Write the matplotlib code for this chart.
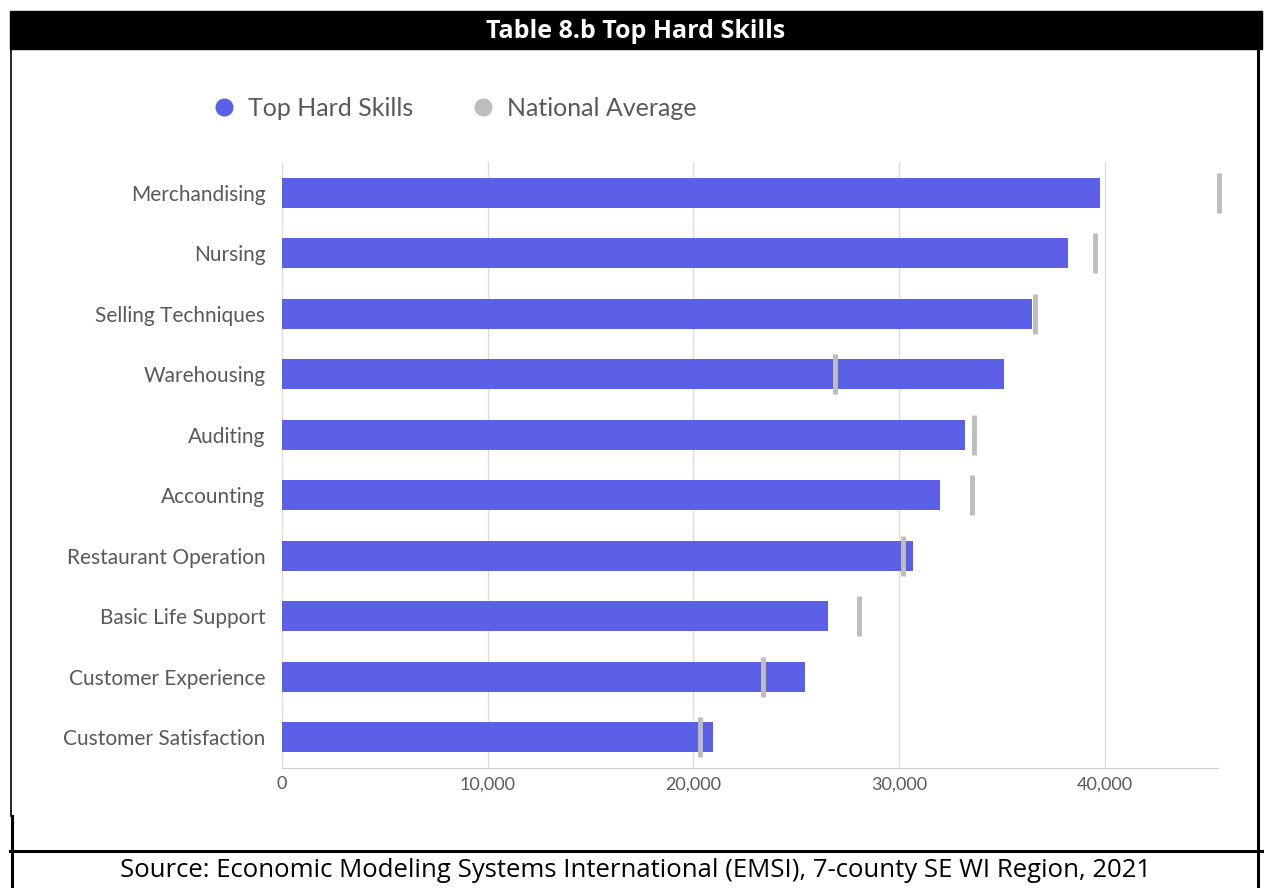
import matplotlib.pyplot as plt
from matplotlib.lines import Line2D
from matplotlib.patches import Rectangle

# Data
SKILLS = ['Merchandising', 'Nursing', 'Selling Techniques', 'Warehousing', 'Auditing',
          'Accounting', 'Restaurant Operation', 'Basic Life Support',
          'Customer Experience', 'Customer Satisfaction']
TOP_HARD_SKILLS = [39750, 38200, 36450, 35100, 33200, 32000, 30650, 26550, 25400, 20950]
NATIONAL_AVERAGE = [45530, 39500, 36600, 26900, 33650, 33550, 30200, 28050, 23400, 20300]
X_TICKS = [0, 10000, 20000, 30000, 40000]

# Style
BAR_COLOR = '#5c60e6'
AVG_COLOR = '#bdbdbd'
TEXT_COLOR = '#595959'
FONT = ['Lato', 'DejaVu Sans']
W, H = 1264, 888

plt.rcParams['font.family'] = FONT


def fx(px):
    return px / W


def fy(py):
    return 1 - py / H


def main():
    fig = plt.figure(figsize=(W / 100, H / 100), dpi=100)

    # Frame and title bar
    fig.patches.append(Rectangle((fx(10), fy(49)), fx(1252), 38 / H,
                                 transform=fig.transFigure, color='black'))
    fig.text(fx(636), fy(31), 'Table 8.b Top Hard Skills', color='white',
             fontsize=18, fontweight='bold', ha='center', va='center',
             family=['Open Sans', 'DejaVu Sans'])
    for xs, ys, lw in [([11, 11], [49, 816], 1.2), ([12, 12], [816, 888], 2.2),
                       ([1258, 1258], [49, 888], 2.2), ([10, 1262], [851, 851], 2.2)]:
        fig.add_artist(Line2D([fx(x) for x in xs], [fy(y) for y in ys],
                              transform=fig.transFigure, color='black', lw=lw))
    fig.text(fx(636), fy(870),
             'Source: Economic Modeling Systems International (EMSI), 7-county SE WI Region, 2021',
             color='black', fontsize=18.5, ha='center', va='center',
             family=['Open Sans', 'DejaVu Sans'])

    # Legend
    fig.add_artist(Line2D([fx(224)], [fy(107)], marker='o', markersize=12,
                          color=BAR_COLOR, transform=fig.transFigure))
    fig.text(fx(248), fy(108), 'Top Hard Skills', color=TEXT_COLOR, fontsize=18,
             va='center')
    fig.add_artist(Line2D([fx(483)], [fy(107)], marker='o', markersize=12,
                          color=AVG_COLOR, transform=fig.transFigure))
    fig.text(fx(507), fy(108), 'National Average', color=TEXT_COLOR, fontsize=18,
             va='center')

    # Chart
    ax = fig.add_axes([fx(282), fy(768), fx(1218 - 282), (768 - 162) / H])
    pos = list(range(len(SKILLS)))
    ax.barh(pos, TOP_HARD_SKILLS, height=0.5, color=BAR_COLOR, zorder=2)
    ax.vlines(NATIONAL_AVERAGE, [p - 0.33 for p in pos], [p + 0.33 for p in pos],
              color=AVG_COLOR, lw=3.5, zorder=3, clip_on=False)

    ax.set_xlim(0, 45500)
    ax.set_ylim(9.51, -0.51)
    ax.set_yticks(pos)
    ax.set_yticklabels(SKILLS, color=TEXT_COLOR, fontsize=15)
    ax.set_xticks(X_TICKS)
    ax.set_xticklabels([f'{t:,}' for t in X_TICKS], color=TEXT_COLOR, fontsize=13)
    ax.tick_params(axis='y', length=0, pad=12)
    ax.tick_params(axis='x', length=0, pad=6)
    ax.grid(axis='x', color='#dcdcdc', lw=1, zorder=0)
    for side in ['top', 'right', 'left']:
        ax.spines[side].set_visible(False)
    ax.spines['bottom'].set_color('#cccccc')

    fig.savefig('out.png', dpi=100)


if __name__ == '__main__':
    main()
